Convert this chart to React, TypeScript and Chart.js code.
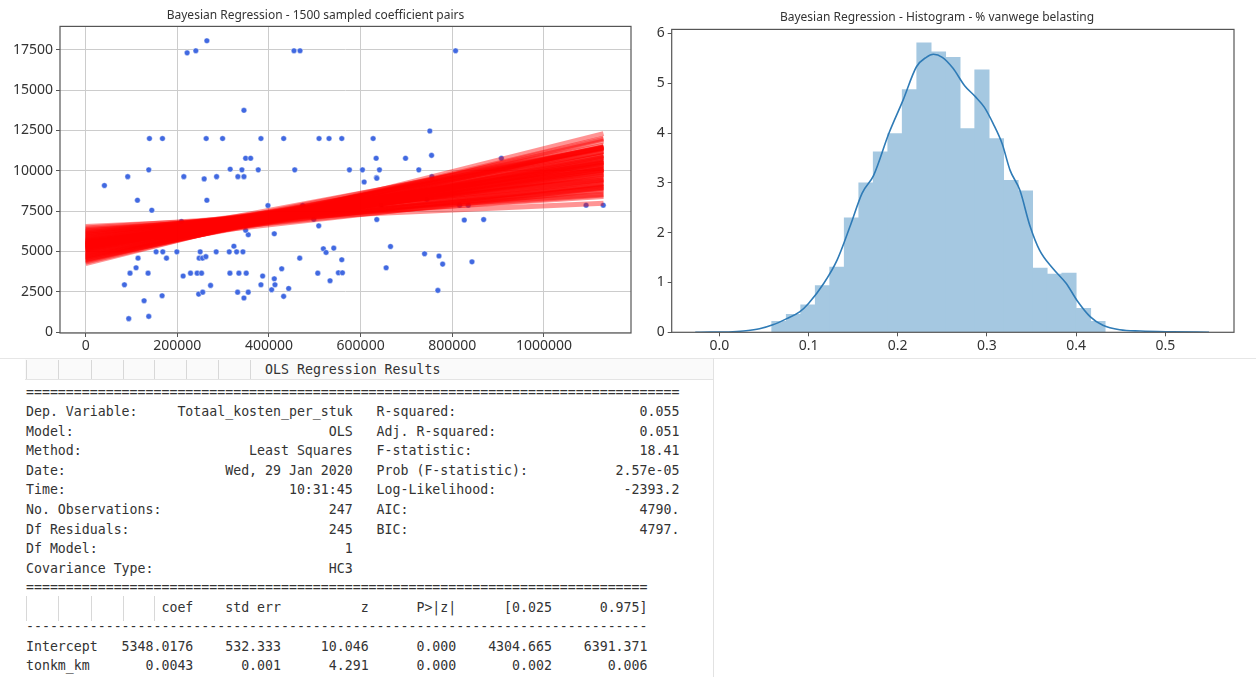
import React, { useEffect, useRef } from "react";
import { Chart, registerables } from "chart.js";
Chart.register(...registerables);

// ---------- Left chart: scatter + sampled regression lines ----------
const scatterX = [
  221400, 240400, 264500, 454600, 467800, 807200, 345400,
  139200, 167600, 263000, 298800, 382500, 432100, 509300, 531100, 558900, 627300,
  751000, 633900, 698000, 754800, 907100, 349100, 360000,
  575600, 604000, 641100, 727000, 634600,
  137700, 91800, 214200, 258600, 285700, 315400, 332200, 341000, 345400, 376600, 456200,
  40900, 113000, 144300, 264500, 397800, 473700, 354800, 411600, 349100, 508600, 323500, 209000,
  153700, 168300, 199000, 249900, 284800, 313300, 329400, 343200,
  114300, 176400, 247700, 255000, 262300, 467100,
  110000, 96800, 136200, 212700, 228800, 243300, 252900, 314800, 334400, 350400, 386200, 427800, 411600, 506500,
  84600, 272600, 382500, 413100, 246600, 255400, 331600, 354800, 345400, 405800, 443000, 432000, 166800, 127500, 137700, 94000,
  607700, 635300, 755500, 816000, 834900, 1092000, 1129500, 635300, 826200, 868500, 497700, 645000, 744700,
  665200, 518700, 541400, 524600, 558900, 739500, 771000, 779000, 843000, 655700, 551500, 560300, 533300, 768600,
];
const scatterY = [
  17310, 17440, 18060, 17440, 17440, 17440, 13750,
  12000, 12000, 12000, 12000, 12000, 12000, 12000, 12000, 12000, 12000,
  12470, 10780, 10780, 10960, 10780, 10780, 10780,
  10060, 10060, 10060, 10060, 9580,
  10060, 9640, 9640, 9500, 9640, 10100, 9640, 10060, 9640, 10060, 10060,
  9090, 8180, 7560, 8180, 7850, 7850, 6040, 6100, 6320, 6590, 5330, 6860,
  4980, 4980, 4980, 4980, 4980, 4980, 4980, 4980,
  4590, 4590, 4590, 4590, 4680, 4590,
  3990, 3660, 3660, 3480, 3660, 3660, 3660, 3660, 3660, 3660, 3480, 3930, 3310, 3660,
  2940, 2900, 2940, 2940, 2360, 2480, 2480, 2480, 2120, 2630, 2710, 2220, 2260, 1950, 980, 840,
  9310, 9540, 9640, 7870, 7870, 7870, 7870, 6980, 6950, 6980, 7000, 7890, 8240,
  5310, 5170, 5210, 4940, 4490, 4860, 4720, 4220, 4360, 3990, 3680, 3680, 3190, 2590,
];

const sampledIntercepts = [
  5400, 5480, 5320, 5560, 5240, 5650, 5150, 5740, 5060, 5830,
  4970, 5920, 4880, 6010, 4790, 6100, 4700, 6190, 4610, 6280,
  4520, 6370, 4430, 6460, 4340, 6550, 4250, 5360, 5440, 5280,
  5520, 5200, 5600, 5110, 5690, 5020, 5780, 4930, 5870, 4840,
  5960, 4750, 6060, 4660, 6150, 4570, 6240, 4480, 5420, 5380,
  5460, 5340, 5500, 5300, 5580, 5220, 5620, 5180, 5700, 5100,
];
const sampledSlopes = [
  0.00425, 0.004425, 0.004075, 0.003725, 0.00485, 0.004175, 0.004325, 0.0035, 0.00485, 0.0035,
  0.005275, 0.00265, 0.0058, 0.00275, 0.00535, 0.00295, 0.0059, 0.00205, 0.0064, 0.002175,
  0.006175, 0.0018, 0.006725, 0.00185, 0.00675, 0.001275, 0.007125, 0.00515, 0.00335, 0.00525,
  0.00325, 0.00565, 0.00285, 0.005575, 0.002925, 0.0057, 0.00405, 0.0048, 0.0037, 0.00515,
  0.00365, 0.005125, 0.003, 0.00555, 0.00295, 0.005875, 0.0025, 0.0062, 0.005325, 0.003175,
  0.00385, 0.00465, 0.00405, 0.004325, 0.004, 0.004675, 0.003325, 0.00515, 0.0034, 0.005075,
];
const lineXRange = [0, 1130000];
const scatterXTicks = [0, 200000, 400000, 600000, 800000, 1000000];
const scatterYTicks = [0, 2500, 5000, 7500, 10000, 12500, 15000, 17500];

// ---------- Right chart: histogram + KDE ----------
const histBinCenters = [
  0.0668, 0.0831, 0.0993, 0.1156, 0.1318, 0.1481, 0.1644, 0.1806, 0.1969, 0.2131, 0.2294, 0.2457,
  0.2619, 0.2782, 0.2944, 0.3107, 0.327, 0.3432, 0.3595, 0.3757, 0.392, 0.4083, 0.4245,
];
const histDensity = [
  0.22, 0.36, 0.55, 0.94, 1.31, 2.3, 3.0, 3.62, 3.99, 4.87, 5.81, 5.63,
  5.52, 4.09, 5.27, 3.89, 3.05, 2.84, 1.29, 1.17, 1.19, 0.48, 0.22,
];
const kdeX = [
  -0.027, -0.01, 0.0, 0.015, 0.03, 0.045, 0.06, 0.075, 0.09, 0.1, 0.117, 0.132, 0.147, 0.16, 0.173,
  0.19, 0.206, 0.221, 0.232, 0.24, 0.25, 0.262, 0.275, 0.287, 0.297, 0.307, 0.317, 0.326, 0.337,
  0.348, 0.359, 0.374, 0.389, 0.401, 0.416, 0.43, 0.449, 0.472, 0.508, 0.549,
];
const kdeY = [
  0.0, 0.003, 0.006, 0.012, 0.03, 0.07, 0.15, 0.27, 0.41, 0.58, 0.98, 1.45, 2.15, 2.79, 3.15,
  3.99, 4.66, 5.33, 5.52, 5.58, 5.52, 5.3, 4.95, 4.73, 4.52, 4.19, 3.79, 3.25, 2.85,
  2.15, 1.65, 1.28, 0.98, 0.64, 0.31, 0.14, 0.05, 0.025, 0.01, 0.0,
];
const histXTicks = [0, 0.1, 0.2, 0.3, 0.4, 0.5];
const histYTicks = [0, 1, 2, 3, 4, 5, 6];

// ---------- OLS summary text ----------
const summaryLeftLabels = ["Dep. Variable:", "Model:", "Method:", "Date:", "Time:", "No. Observations:", "Df Residuals:", "Df Model:", "Covariance Type:"];
const summaryLeftValues = ["Totaal_kosten_per_stuk", "OLS", "Least Squares", "Wed, 29 Jan 2020", "10:31:45", "247", "245", "1", "HC3"];
const summaryRightLabels = ["R-squared:", "Adj. R-squared:", "F-statistic:", "Prob (F-statistic):", "Log-Likelihood:", "AIC:", "BIC:"];
const summaryRightValues = ["0.055", "0.051", "18.41", "2.57e-05", "-2393.2", "4790.", "4797."];
const coefHeader = ["coef", "std err", "z", "P>|z|", "[0.025", "0.975]"];
const coefNames = ["Intercept", "tonkm_km"];
const coefValues = [
  ["5348.0176", "532.333", "10.046", "0.000", "4304.665", "6391.371"],
  ["0.0043", "0.001", "4.291", "0.000", "0.002", "0.006"],
];
const summaryTitle = "OLS Regression Results";

const colWidths = [21, 11, 11, 11, 12, 12];
function buildSummary(): string {
  const lines: string[] = [];
  lines.push("=".repeat(82));
  summaryLeftLabels.forEach((l, i) => {
    let s = l + summaryLeftValues[i].padStart(41 - l.length);
    if (i < summaryRightLabels.length) {
      const rl = summaryRightLabels[i];
      s += "   " + rl + summaryRightValues[i].padStart(82 - 44 - rl.length);
    }
    lines.push(s);
  });
  lines.push("=".repeat(78));
  lines.push(coefHeader.map((h, i) => h.padStart(colWidths[i])).join(""));
  lines.push("-".repeat(78));
  coefNames.forEach((n, r) => {
    lines.push(
      n + coefValues[r].map((v, i) => v.padStart(i === 0 ? colWidths[0] - n.length : colWidths[i])).join("")
    );
  });
  return lines.join("\n");
}

const framePlugin = {
  id: "frame",
  afterDatasetsDraw(chart: any, _args: any, opts: any) {
    const { ctx, chartArea } = chart;
    ctx.save();
    ctx.strokeStyle = opts.color || "#555";
    ctx.lineWidth = opts.width || 1;
    ctx.strokeRect(chartArea.left, chartArea.top, chartArea.right - chartArea.left, chartArea.bottom - chartArea.top);
    ctx.restore();
  },
};

const TICK_FONT = { family: "'Noto Sans', sans-serif", size: 14 };
const TITLE_FONT = { family: "'Noto Sans', sans-serif", size: 12, weight: "normal" as const };

const fixTicks = (vals: number[]) => (scale: any) => {
  scale.ticks = vals.map((v) => ({ value: v }));
};

function ScatterChart() {
  const ref = useRef<HTMLCanvasElement>(null);
  useEffect(() => {
    const lineSets = sampledIntercepts.map((a, i) => ({
      type: "scatter" as const,
      showLine: true,
      data: lineXRange.map((x) => ({ x, y: a + sampledSlopes[i] * x })),
      borderColor: "rgba(255,0,0,0.42)",
      borderWidth: 5,
      pointRadius: 0,
      order: 1,
    }));
    const chart = new Chart(ref.current as HTMLCanvasElement, {
      type: "scatter",
      data: {
        datasets: [
          ...lineSets,
          {
            data: scatterX.map((x, i) => ({ x, y: scatterY[i] })),
            backgroundColor: "#4169e1",
            borderColor: "rgba(255,255,255,0.7)",
            borderWidth: 0.6,
            pointRadius: 2.8,
            order: 2,
          } as any,
        ],
      },
      options: {
        animation: false,
        responsive: false,
        events: [],
        layout: { padding: { left: 0, right: 9, top: 0, bottom: 0 } },
        plugins: {
          legend: { display: false },
          tooltip: { enabled: false },
          title: {
            display: true,
            text: "Bayesian Regression - 1500 sampled coefficient pairs",
            font: TITLE_FONT,
            color: "#333",
            padding: { top: 8, bottom: 4 },
          },
          frame: { color: "#555", width: 1.2 },
        } as any,
        scales: {
          x: {
            type: "linear",
            min: -56000,
            max: 1190000,
            border: { display: false },
            grid: { color: "#cccccc", tickColor: "#555", tickLength: 4 },
            afterBuildTicks: fixTicks(scatterXTicks),
            ticks: {
              maxRotation: 0,
              autoSkip: false,
              font: TICK_FONT,
              color: "#333",
              padding: 1,
              callback: (v: any) => String(v),
            },
            afterFit: (s: any) => { s.height = 25; },
          },
          y: {
            type: "linear",
            min: -50,
            max: 18950,
            border: { display: false },
            grid: { color: "#cccccc", tickColor: "#555", tickLength: 4 },
            afterBuildTicks: fixTicks(scatterYTicks),
            ticks: {
              autoSkip: false,
              font: TICK_FONT,
              color: "#333",
              padding: 3,
              callback: (v: any) => String(v),
            },
            afterFit: (s: any) => { s.width = 60; },
          },
        },
      },
      plugins: [framePlugin],
    });
    return () => chart.destroy();
  }, []);
  return <canvas ref={ref} width={640} height={358} style={{ position: "absolute", left: 0, top: 0 }} />;
}

function HistChart() {
  const ref = useRef<HTMLCanvasElement>(null);
  useEffect(() => {
    const chart = new Chart(ref.current as HTMLCanvasElement, {
      type: "bar",
      data: {
        datasets: [
          {
            type: "line",
            data: kdeX.map((x, i) => ({ x, y: kdeY[i] })),
            borderColor: "#2f7bb6",
            borderWidth: 1.6,
            pointRadius: 0,
            cubicInterpolationMode: "monotone",
            fill: false,
            order: 1,
          } as any,
          {
            type: "bar",
            data: histBinCenters.map((x, i) => ({ x, y: histDensity[i] })),
            backgroundColor: "#a5c8e1",
            borderWidth: 0,
            barPercentage: 1,
            categoryPercentage: 1,
            order: 2,
          } as any,
        ],
      },
      options: {
        animation: false,
        responsive: false,
        events: [],
        layout: { padding: { left: 0, right: 22, top: 0, bottom: 0 } },
        plugins: {
          legend: { display: false },
          tooltip: { enabled: false },
          title: {
            display: true,
            text: "Bayesian Regression - Histogram - % vanwege belasting",
            font: TITLE_FONT,
            color: "#333",
            padding: { top: 10, bottom: 5 },
          },
          frame: { color: "#555", width: 1.2 },
        } as any,
        scales: {
          x: {
            type: "linear",
            min: -0.0534,
            max: 0.577,
            offset: false,
            border: { display: false },
            grid: { offset: false, drawOnChartArea: false, tickColor: "#555", tickLength: 4 },
            afterBuildTicks: fixTicks(histXTicks),
            ticks: {
              maxRotation: 0,
              autoSkip: false,
              font: TICK_FONT,
              color: "#333",
              padding: 1,
              callback: (v: any) => Number(v).toFixed(1),
            },
            afterFit: (s: any) => { s.height = 25.7; },
          },
          y: {
            type: "linear",
            min: 0,
            max: 6.08,
            border: { display: false },
            grid: { drawOnChartArea: false, tickColor: "#555", tickLength: 4 },
            afterBuildTicks: fixTicks(histYTicks),
            ticks: {
              autoSkip: false,
              font: TICK_FONT,
              color: "#333",
              padding: 3,
              callback: (v: any) => String(v),
            },
            afterFit: (s: any) => { s.width = 31.7; },
          },
        },
      },
      plugins: [framePlugin],
    });
    return () => chart.destroy();
  }, []);
  return <canvas ref={ref} width={616} height={358} style={{ position: "absolute", left: 640, top: 0 }} />;
}

const MONO = "'DejaVu Sans Mono', 'Liberation Mono', monospace";
const CHAR_W = 7.97;
const LINE_H = 19.54;

function Summary() {
  const headerCells = [26, 58.3, 90.7, 122.7, 154, 186, 218.3, 250];
  const coefCells = [26, 58.3, 90.7, 122.7, 154];
  return (
    <>
      <div style={{ position: "absolute", left: 0, top: 358, width: 1256, height: 1, background: "#e6e6e6" }} />
      <div style={{ position: "absolute", left: 713, top: 358, width: 1, height: 319, background: "#e2e2e2" }} />
      <div style={{ position: "absolute", left: 25, top: 359, width: 688, height: 20, background: "#fafafa", borderBottom: "1px solid #e4e4e4" }} />
      {headerCells.map((x, i) => (
        <div key={"h" + i} style={{ position: "absolute", left: x, top: 360, width: 1, height: 19, background: "#d8d8d8" }} />
      ))}
      {coefCells.map((x, i) => (
        <div key={"c" + i} style={{ position: "absolute", left: x, top: 596, width: 1, height: 25, background: "#d8d8d8" }} />
      ))}
      <div
        style={{
          position: "absolute",
          left: 26 + 30 * CHAR_W,
          top: 360,
          height: 20,
          lineHeight: "20px",
          fontFamily: MONO,
          fontSize: 13.24,
          color: "#333",
          whiteSpace: "pre",
        }}
      >
        {summaryTitle}
      </div>
      <pre
        style={{
          position: "absolute",
          left: 26,
          top: 392.5 - LINE_H / 2,
          margin: 0,
          fontFamily: MONO,
          fontSize: 13.24,
          lineHeight: LINE_H + "px",
          color: "#333",
          whiteSpace: "pre",
        }}
      >
        {buildSummary()}
      </pre>
    </>
  );
}

export default function App() {
  return (
    <div style={{ position: "absolute", left: 0, top: 0, width: 1256, height: 677, background: "#fff", overflow: "hidden" }}>
      <ScatterChart />
      <HistChart />
      <Summary />
    </div>
  );
}
